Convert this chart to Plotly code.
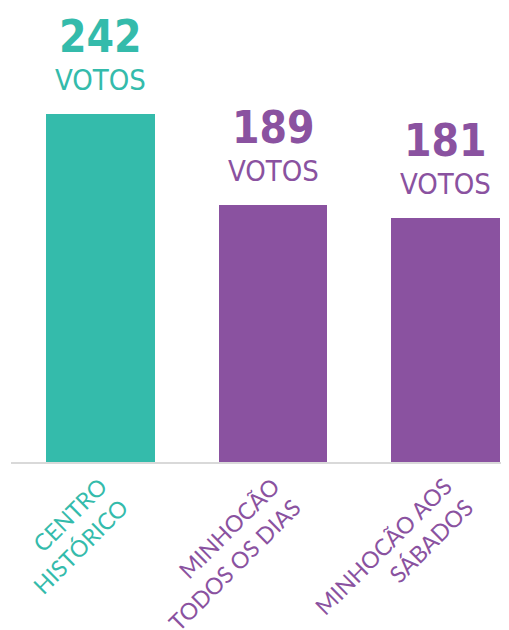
import plotly.graph_objs as go

categories = ["CENTRO<br>HISTÓRICO", "MINHOCÃO<br>TODOS OS DIAS", "MINHOCÃO AOS<br>SÁBADOS"]
votes = [242, 189, 181]
colors = ["#34BBAB", "#8A52A0", "#8A52A0"]

x = list(range(len(categories)))

tick_text = []
for cat, c in zip(categories, colors):
    lines = cat.split("<br>")
    tick_text.append("<br>".join("<span style='color:%s'>%s</span>" % (c, ln) for ln in lines))

bars = go.Bar(
    x=x,
    y=votes,
    width=0.63,
    marker=dict(color=colors, line=dict(width=0)),
    hoverinfo="skip",
)

num_font = "DejaVu Sans Condensed, sans-serif"
annotations = []
for xi, v, c in zip(x, votes, colors):
    annotations.append(dict(
        x=xi, y=v, xref="x", yref="y", text="<b>%d</b>" % v,
        showarrow=False, yanchor="bottom", yshift=50,
        font=dict(family=num_font, size=44, color=c),
    ))
    annotations.append(dict(
        x=xi, y=v, xref="x", yref="y", text="VOTOS",
        showarrow=False, yanchor="bottom", yshift=15,
        font=dict(family=num_font, size=29, color=c),
    ))

fig = go.Figure(data=[bars])
# the page body has an 8px margin, so the plot box is shifted by that much
fig.update_layout(
    width=509,
    height=630,
    margin=dict(l=3, r=8, t=0, b=176),
    paper_bgcolor="white",
    plot_bgcolor="white",
    showlegend=False,
    bargap=0,
    annotations=annotations,
    xaxis=dict(
        range=[-0.519, 2.368],
        tickmode="array",
        tickvals=x,
        ticktext=tick_text,
        tickangle=-45,
        ticklabeloverflow="allow",
        tickfont=dict(family="Lato", size=23, color=colors[1]),
        showline=True,
        linecolor="#D9D9D9",
        linewidth=2,
        showgrid=False,
        zeroline=False,
        ticks="",
        automargin=False,
        fixedrange=True,
    ),
    yaxis=dict(
        range=[38.5, 304],
        visible=False,
        automargin=False,
        fixedrange=True,
    ),
)

fig.write_html("out.html")
